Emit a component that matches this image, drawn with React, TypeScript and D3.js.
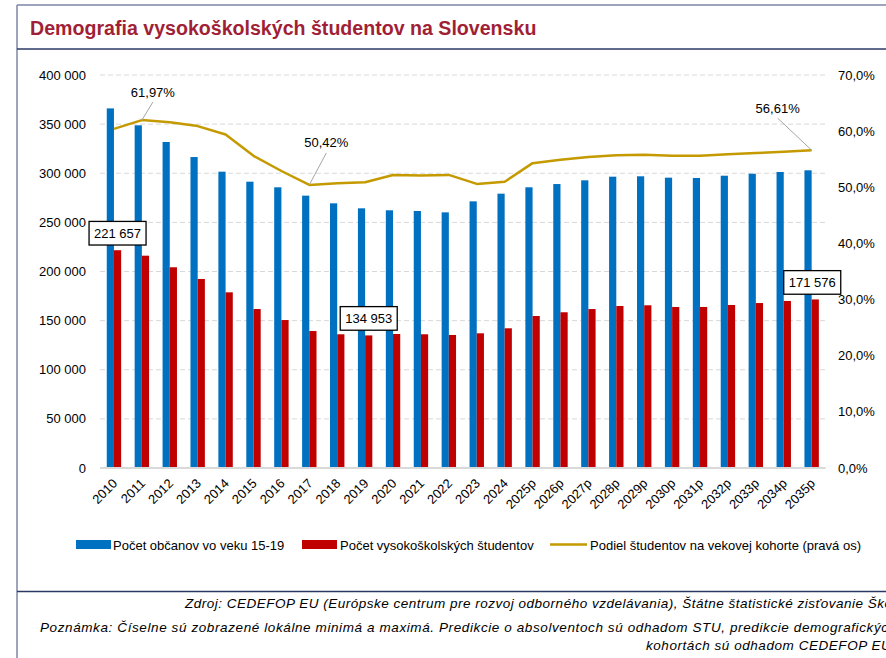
import React from 'react';
import * as d3 from 'd3';

const years = ['2010', '2011', '2012', '2013', '2014', '2015', '2016', '2017', '2018', '2019', '2020', '2021', '2022', '2023', '2024',
  '2025p', '2026p', '2027p', '2028p', '2029p', '2030p', '2031p', '2032p', '2033p', '2034p', '2035p'];

// Počet občanov vo veku 15-19
const population = [366000, 348800, 331800, 316500, 301600, 291400, 285700, 277200, 269400, 264300, 262300, 261600, 260200,
  271400, 279200, 285700, 289000, 292800, 296500, 296900, 295500, 295200, 297500, 299500, 301300, 303000];

// Počet vysokoškolských študentov
const students = [221657, 216100, 204300, 192400, 178800, 161800, 150600, 139400, 136100, 134953, 136400, 136100, 135400,
  137100, 142200, 154700, 158500, 161800, 164900, 165600, 163900, 163900, 165900, 167900, 170000, 171576];

// Podiel študentov na vekovej kohorte (%)
const share = [60.4, 61.97, 61.6, 60.9, 59.4, 55.6, 52.9, 50.42, 50.7, 50.9, 52.2, 52.1, 52.2, 50.6, 51.0,
  54.3, 54.9, 55.4, 55.7, 55.8, 55.6, 55.6, 55.9, 56.1, 56.35, 56.61];

const leftTicks = [0, 50000, 100000, 150000, 200000, 250000, 300000, 350000, 400000];
const rightTicks = [0, 10, 20, 30, 40, 50, 60, 70];

// which points get a label
const boxLabels = [0, 9, 25];
const pctLabels = [1, 7, 25];

const W = 886, H = 658;
const FONT = '"Liberation Sans", Arial, sans-serif';
const BLUE = '#0070C0', RED = '#C00000', GOLD = '#C49A00';

const fmtNum = (v: number) => d3.format(',')(v).replace(/,/g, ' ');
const fmtPct = (v: number, d: number) => v.toFixed(d).replace('.', ',') + '%';

export default function App() {
  const x = d3.scaleBand().domain(years).range([100, 825.6]).padding(0);
  const yL = d3.scaleLinear().domain([0, 400000]).range([468, 75]);
  const yR = d3.scaleLinear().domain([0, 70]).range([468, 75]);
  const bw = 7.2;
  const cx = (d: string) => (x(d) as number) + x.bandwidth() / 2;

  const line = d3.line<number>()
    .x((_, i) => cx(years[i]))
    .y((d) => yR(d));

  const pctOffsets = [[11, -28], [17, -42], [-34, -42]];
  const boxOffsets = [0, 0, -3];

  return (
    <svg width={W} height={H} style={{ position: 'absolute', left: 0, top: 0, background: '#fff' }} fontFamily={FONT}>
      {/* frame */}
      <line x1={17} x2={W} y1={5} y2={5} stroke="#7C86A4" strokeWidth={1.5} />
      <line x1={17} x2={17} y1={5} y2={H} stroke="#7C86A4" strokeWidth={1.5} />
      <line x1={17} x2={W} y1={49} y2={49} stroke="#2B3866" strokeWidth={1.3} />
      <line x1={17} x2={W} y1={591.5} y2={591.5} stroke="#2B3866" strokeWidth={1.3} />
      <text x={30} y={35} fontSize={19.6} fontWeight="bold" fill="#A11F36">
        Demografia vysokoškolských študentov na Slovensku
      </text>

      {/* grid */}
      {leftTicks.filter((t) => t > 0).map((t) => (
        <line key={t} x1={100} x2={825.6} y1={yL(t)} y2={yL(t)} stroke="#D9D9D9" strokeDasharray="5,3" />
      ))}

      {/* bars */}
      {years.map((d, i) => (
        <g key={d}>
          <rect x={cx(d) - bw} y={yL(population[i])} width={bw} height={yL(0) - yL(population[i])} fill={BLUE} />
          <rect x={cx(d)} y={yL(students[i])} width={bw} height={yL(0) - yL(students[i])} fill={RED} />
        </g>
      ))}
      <line x1={100} x2={825.6} y1={yL(0)} y2={yL(0)} stroke="#D9D9D9" strokeWidth={2} />

      {/* line */}
      <path d={line(share) || ''} fill="none" stroke={GOLD} strokeWidth={2.5} strokeLinejoin="round" />

      {/* axes */}
      {leftTicks.map((t) => (
        <text key={t} x={86} y={yL(t)} dy="0.35em" fontSize={13} textAnchor="end" fill="#000">{fmtNum(t)}</text>
      ))}
      {rightTicks.map((t) => (
        <text key={t} x={838} y={yR(t)} dy="0.35em" fontSize={13} fill="#000">{fmtPct(t, 1)}</text>
      ))}
      {years.map((d) => (
        <text key={d} transform={`translate(${cx(d) + 1},${481}) rotate(-45)`} dy="0.35em" fontSize={13} textAnchor="end" fill="#000">{d}</text>
      ))}

      {/* percent labels */}
      {pctLabels.map((i, k) => {
        const px = cx(years[i]), py = yR(share[i]);
        const lx = px + pctOffsets[k][0], ly = py + pctOffsets[k][1];
        return (
          <g key={'p' + i}>
            <line x1={lx} y1={ly + 10} x2={px} y2={py} stroke="#A6A6A6" strokeWidth={1} />
            <text x={lx} y={ly} dy="0.35em" fontSize={13} textAnchor="middle" fill="#000">{fmtPct(share[i], 2)}</text>
          </g>
        );
      })}

      {/* value boxes */}
      {boxLabels.map((i, k) => {
        const bx = cx(years[i]) + bw / 2 + boxOffsets[k], by = yL(students[i]) - 17;
        return (
          <g key={'b' + i}>
            <rect x={bx - 28.5} y={by - 11.8} width={57} height={23.6} fill="#fff" stroke="#000" strokeWidth={1.3} />
            <text x={bx} y={by} dy="0.35em" fontSize={13} textAnchor="middle" fill="#000">{fmtNum(students[i])}</text>
          </g>
        );
      })}

      {/* legend */}
      <rect x={76} y={540} width={35} height={9} fill={BLUE} />
      <text x={113} y={545} dy="0.35em" fontSize={13}>Počet občanov vo veku 15-19</text>
      <rect x={302} y={540} width={35} height={9} fill={RED} />
      <text x={340} y={545} dy="0.35em" fontSize={13}>Počet vysokoškolských študentov</text>
      <line x1={550} x2={587} y1={544.5} y2={544.5} stroke={GOLD} strokeWidth={2.5} />
      <text x={590} y={545} dy="0.35em" fontSize={13}>Podiel študentov na vekovej kohorte (pravá os)</text>

      {/* footer */}
      <g fontStyle="italic" fill="#000" fontSize={13.5}>
        <text x={185} y={608} letterSpacing={0.5}>Zdroj: CEDEFOP EU (Európske centrum pre rozvoj odborného vzdelávania), Štátne štatistické zisťovanie Školský výkaz</text>
        <text x={40} y={632} letterSpacing={0.6}>Poznámka: Číselne sú zobrazené lokálne minimá a maximá. Predikcie o absolventoch sú odhadom STU, predikcie demografických údajov o vekových</text>
        <text x={646} y={650} letterSpacing={0.55}>kohortách sú odhadom CEDEFOP EU.</text>
      </g>
    </svg>
  );
}
